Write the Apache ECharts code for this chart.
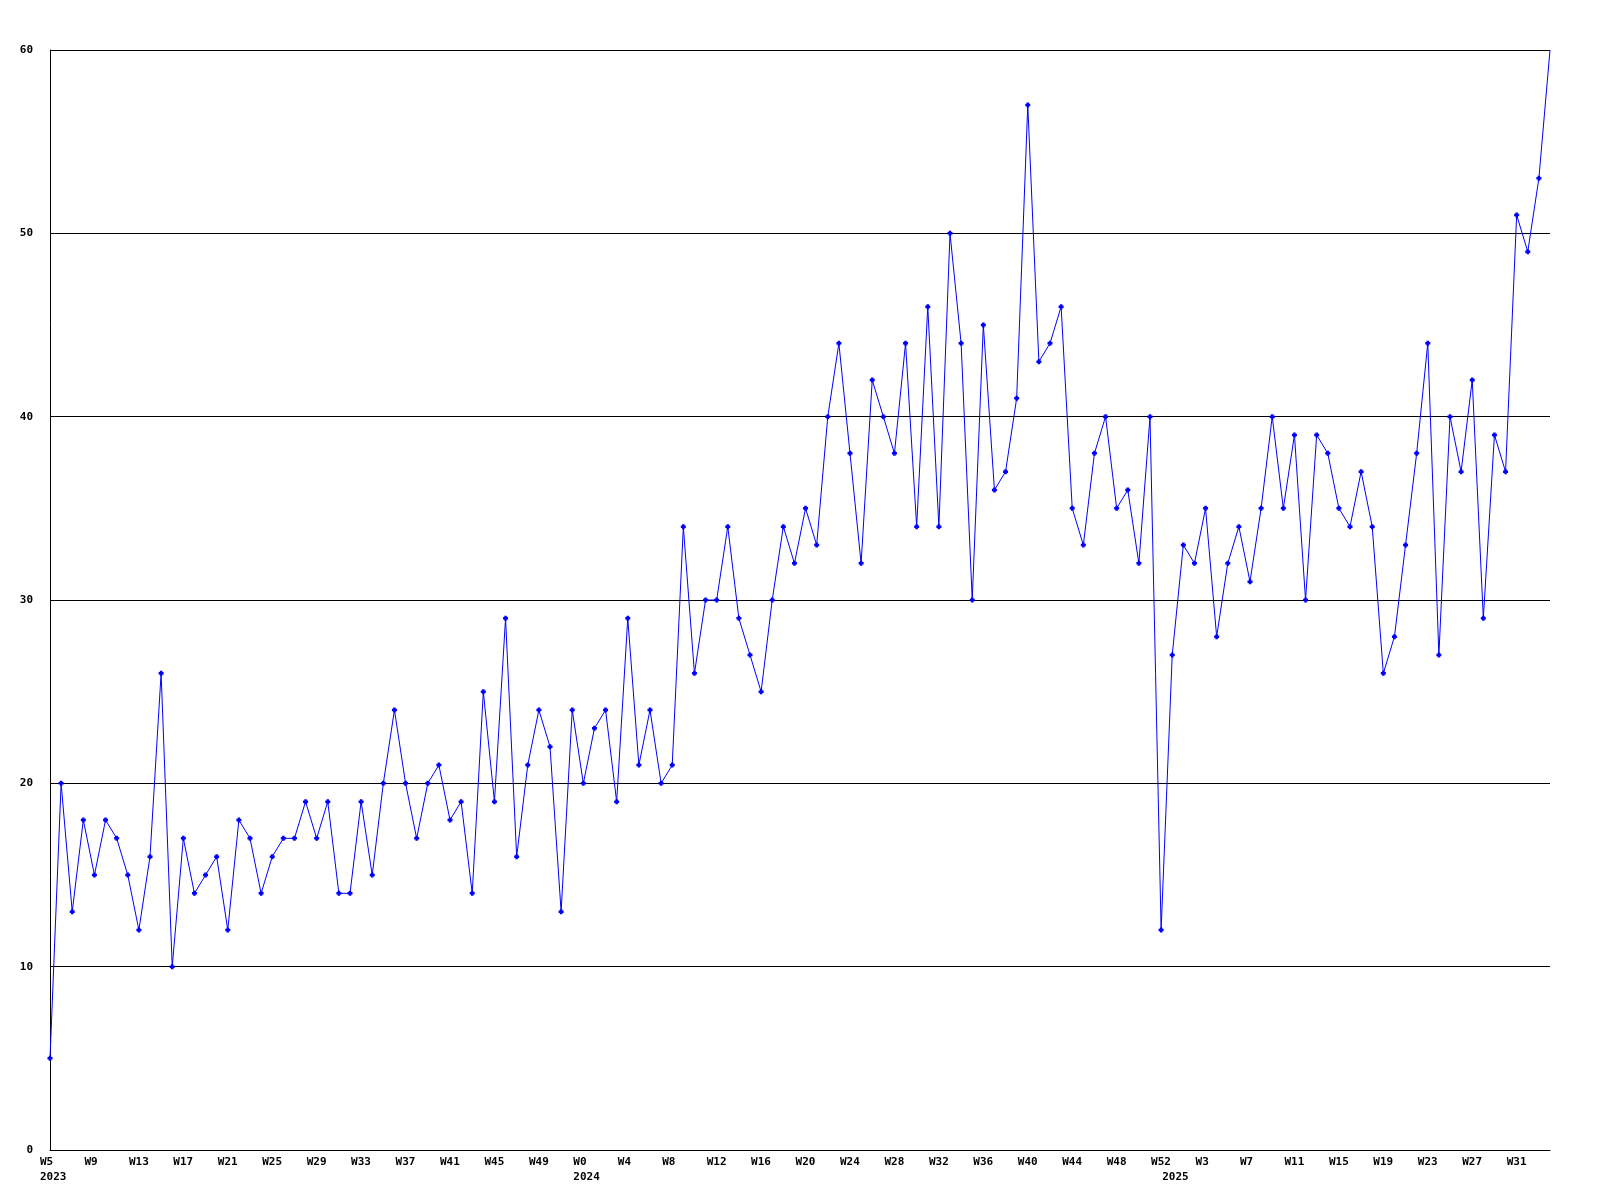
<!DOCTYPE html>
<html>
<head>
<meta charset="utf-8">
<script src="https://cdn.jsdelivr.net/npm/echarts@6/dist/echarts.min.js"></script>
<style>
html,body{margin:0;padding:0;background:#fff;}
#chart{width:1600px;height:1200px;}
</style>
</head>
<body>
<div id="chart"></div>
<script>
// Week ranges per year: [year, firstWeek, lastWeek]
const weekRanges = [[2023, 5, 52], [2024, 0, 52], [2025, 0, 34]];

// Weekly counts
const values2023 = [5,20,13,18,15,18,17,15,12,16,26,10,17,14,15,16,12,18,17,14,16,17,17,19,17,19,14,14,19,15,20,24,20,17,20,21,18,19,14,25,19,29,16,21,24,22,13,24];
const values2024 = [20,23,24,19,29,21,24,20,21,34,26,30,30,34,29,27,25,30,34,32,35,33,40,44,38,32,42,40,38,44,34,46,34,50,44,30,45,36,37,41,57,43,44,46,35,33,38,40,35,36,32,40,12];
const values2025 = [27,33,32,35,28,32,34,31,35,40,35,39,30,39,38,35,34,37,34,26,28,33,38,44,27,40,37,42,29,39,37,51,49,53,60];

const yTicks = [0, 10, 20, 30, 40, 50, 60];

const categories = [];
const catYears = [];
weekRanges.forEach(function (r) {
  for (let w = r[1]; w <= r[2]; w++) { categories.push('W' + w); catYears.push(r[0]); }
});
const values = values2023.concat(values2024, values2025);
const seriesData = values.map(function (v, i) {
  return i === values.length - 1 ? {value: v, symbol: 'none'} : v;
});

const fontFam = '"DejaVu Sans Mono", "Liberation Mono", monospace';
const labelBase = {color: '#000', fontFamily: fontFam, fontWeight: 'bold', fontSize: 11, lineHeight: 15};
const chart = echarts.init(document.getElementById('chart'), null, {renderer: 'canvas'});
chart.setOption({
  backgroundColor: '#ffffff',
  animation: false,
  grid: [
    {left: 50, right: 50, top: 50, bottom: 50, containLabel: false},
    {left: 40, right: 60, top: 50, bottom: 50, containLabel: false},
    {left: 40, right: 60, top: 50, bottom: 50, containLabel: false}
  ],
  xAxis: [
    {
      type: 'category', gridIndex: 0, data: categories, boundaryGap: false,
      axisLine: {show: true, lineStyle: {color: '#000', width: 1}},
      axisTick: {show: false}, axisLabel: {show: false}, splitLine: {show: false}
    },
    {
      type: 'category', gridIndex: 1, data: categories, boundaryGap: false,
      axisLine: {show: false}, axisTick: {show: false}, splitLine: {show: false},
      axisLabel: Object.assign({show: true, interval: 3, align: 'left', margin: 5}, labelBase)
    },
    {
      type: 'category', gridIndex: 2, data: categories, boundaryGap: false,
      axisLine: {show: false}, axisTick: {show: false}, splitLine: {show: false},
      axisLabel: Object.assign({
        show: true, interval: 0, align: 'left', margin: 20,
        formatter: function (v, i) {
          return (i === 0 || catYears[i - 1] !== catYears[i]) ? String(catYears[i]) : '';
        }
      }, labelBase)
    }
  ],
  yAxis: [
    {
      type: 'value', gridIndex: 0, min: yTicks[0], max: yTicks[yTicks.length - 1], interval: 10,
      axisLine: {show: true, lineStyle: {color: '#000', width: 1}},
      axisTick: {show: false},
      splitLine: {show: true, lineStyle: {color: '#000', width: 1, type: 'solid'}},
      axisLabel: {color: '#000', fontFamily: fontFam, fontWeight: 'bold', fontSize: 11, margin: 17}
    },
    {type: 'value', gridIndex: 1, show: false, min: 0, max: 60},
    {type: 'value', gridIndex: 2, show: false, min: 0, max: 60}
  ],
  series: [{
    type: 'line', xAxisIndex: 0, yAxisIndex: 0, data: seriesData,
    lineStyle: {color: '#0000ff', width: 1},
    itemStyle: {color: '#0000ff'},
    symbol: 'path://M1,0H3V1H4V3H3V4H1V3H0V1H1Z', symbolSize: 5, showAllSymbol: true,
    smooth: false, silent: true, clip: false
  }]
});
</script>
</body>
</html>
